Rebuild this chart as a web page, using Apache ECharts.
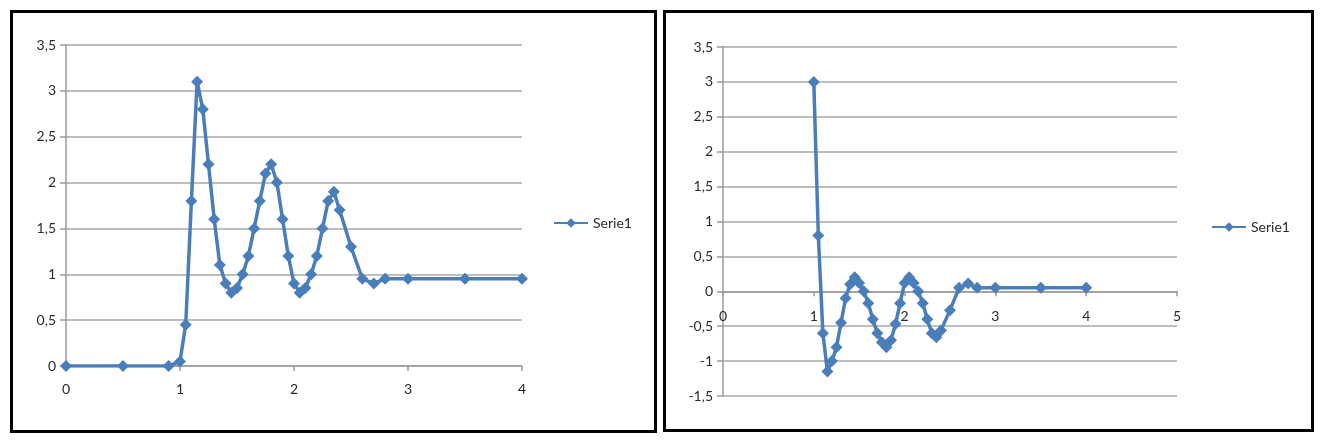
<!DOCTYPE html>
<html>
<head>
<meta charset="utf-8">
<script src="https://cdn.jsdelivr.net/npm/echarts@6/dist/echarts.min.js"></script>
<style>
html,body{margin:0;padding:0;background:#fff;}
#c{width:1320px;height:443px;}
</style>
</head>
<body>
<div id="c"></div>
<script>
// Left chart data
const leftX = [0, 0.5, 0.9, 1.0, 1.05, 1.1, 1.15, 1.2, 1.25, 1.3, 1.35, 1.4, 1.45, 1.5, 1.55, 1.6, 1.65, 1.7, 1.75, 1.8, 1.85, 1.9, 1.95, 2.0, 2.05, 2.1, 2.15, 2.2, 2.25, 2.3, 2.35, 2.4, 2.5, 2.6, 2.7, 2.8, 3.0, 3.5, 4.0];
const leftY = [0, 0, 0, 0.05, 0.45, 1.8, 3.1, 2.8, 2.2, 1.6, 1.1, 0.9, 0.8, 0.85, 1.0, 1.2, 1.5, 1.8, 2.1, 2.2, 2.0, 1.6, 1.2, 0.9, 0.8, 0.85, 1.0, 1.2, 1.5, 1.8, 1.9, 1.7, 1.3, 0.95, 0.9, 0.95, 0.95, 0.95, 0.95];
// Right chart data
const rightX = [1.0, 1.05, 1.1, 1.15, 1.2, 1.25, 1.3, 1.35, 1.4, 1.45, 1.5, 1.55, 1.6, 1.65, 1.7, 1.75, 1.8, 1.85, 1.9, 1.95, 2.0, 2.05, 2.1, 2.15, 2.2, 2.25, 2.3, 2.35, 2.4, 2.5, 2.6, 2.7, 2.8, 3.0, 3.5, 4.0];
const rightY = [3.0, 0.8, -0.6, -1.15, -1.0, -0.8, -0.45, -0.1, 0.1, 0.2, 0.12, 0.0, -0.17, -0.4, -0.6, -0.73, -0.8, -0.7, -0.47, -0.17, 0.12, 0.2, 0.12, 0.0, -0.17, -0.4, -0.6, -0.66, -0.56, -0.27, 0.05, 0.11, 0.05, 0.05, 0.05, 0.05];
const seriesName = 'Serie1';

const blue = '#4a7ebb';
const fontFam = 'Lato, "Open Sans", sans-serif';
const textColor = '#2a2a2a';
const comma = v => String(v).replace('.', ',');

// right grid geometry (layout only)
const rTop = 47, rHeight = 349, rMin = -1.5, rMax = 3.5;
const rZeroOffset = rHeight * (0 - rMin) / (rMax - rMin);

function xAxisCfg(gi, max, margin, offset) {
  return {
    type: 'value', gridIndex: gi, min: 0, max: max, interval: 1,
    position: 'bottom', offset: offset,
    axisLine: {show: true, onZero: false, lineStyle: {color: '#9a9a9a', width: 1.5}},
    axisTick: {show: true, length: 5, lineStyle: {color: '#9a9a9a', width: 1.5}},
    axisLabel: {color: textColor, fontSize: 14, fontFamily: fontFam, margin: margin},
    splitLine: {show: false}
  };
}
function yAxisCfg(gi, min, max) {
  return {
    type: 'value', gridIndex: gi, min: min, max: max, interval: 0.5,
    axisLine: {show: true, onZero: false, lineStyle: {color: '#9a9a9a', width: 1.5}},
    axisTick: {show: true, length: 6, lineStyle: {color: '#9a9a9a', width: 1.5}},
    axisLabel: {color: textColor, fontSize: 14, fontFamily: fontFam, margin: 10, formatter: comma},
    splitLine: {show: true, lineStyle: {color: '#a8a8a8', width: 1.5}}
  };
}
function seriesCfg(gi, xs, ys) {
  return {
    name: seriesName, type: 'line', xAxisIndex: gi, yAxisIndex: gi,
    data: xs.map((x, i) => [x, ys[i]]),
    symbol: 'diamond', symbolSize: 12, showAllSymbol: true,
    lineStyle: {color: blue, width: 3.5},
    itemStyle: {color: blue},
    emphasis: {disabled: true},
    animation: false
  };
}

const chart = echarts.init(document.getElementById('c'), null, {renderer: 'canvas'});
chart.setOption({
  backgroundColor: '#fff',
  animation: false,
  grid: [
    {left: 66, top: 45, width: 456, height: 321},
    {left: 723, top: rTop, width: 454, height: rHeight}
  ],
  xAxis: [xAxisCfg(0, 4, 16, 0), xAxisCfg(1, 5, 18, -rZeroOffset)],
  yAxis: [yAxisCfg(0, 0, 3.5), yAxisCfg(1, rMin, rMax)],
  legend: [
    {data: [seriesName], left: 548, top: 211, itemWidth: 34, itemHeight: 12, itemGap: 4,
     textStyle: {color: textColor, fontSize: 14, fontFamily: fontFam}},
    {data: [seriesName], left: 1206, top: 215, itemWidth: 34, itemHeight: 12, itemGap: 4,
     textStyle: {color: textColor, fontSize: 14, fontFamily: fontFam}}
  ],
  series: [seriesCfg(0, leftX, leftY), seriesCfg(1, rightX, rightY)],
  graphic: [
    {type: 'rect', shape: {x: 11.5, y: 11.5, width: 644, height: 420}, style: {fill: 'none', stroke: '#000', lineWidth: 3}},
    {type: 'rect', shape: {x: 664.5, y: 11.5, width: 648, height: 419}, style: {fill: 'none', stroke: '#000', lineWidth: 3}}
  ]
});
</script>
</body>
</html>
